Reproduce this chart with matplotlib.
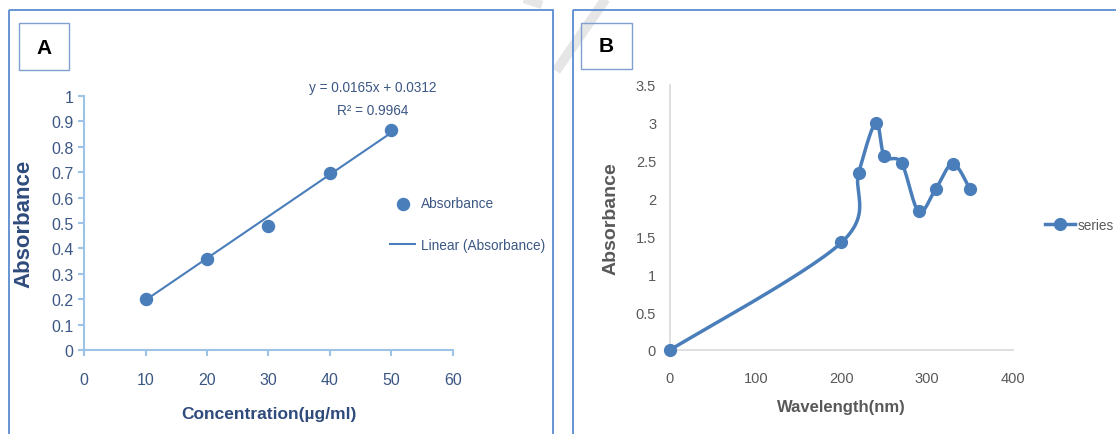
import numpy as np
import matplotlib.pyplot as plt
from matplotlib.patches import Rectangle

# Panel A: calibration data
conc = [10, 20, 30, 40, 50]
absorb_a = [0.20, 0.36, 0.49, 0.695, 0.865]
slope, intercept = 0.0165, 0.0312
r2 = 0.9964

# Panel B: spectrum
wavelength = [0, 200, 220, 240, 250, 270, 290, 310, 330, 350]
absorb_b = [0.0, 1.42, 2.34, 3.0, 2.56, 2.47, 1.83, 2.13, 2.46, 2.12]

BLUE = '#4a7ebb'
NARROW = ['Liberation Sans', 'DejaVu Sans']
W, H = 1116, 435


def px_box(x0, y0, x1, y1):
    # pixel box (top-left origin) -> figure fraction rect
    return [x0 / W, 1 - y1 / H, (x1 - x0) / W, (y1 - y0) / H]


def smooth(xs, ys, sx, sy, n=30):
    # catmull-rom through the points, done in screen-like units (like Excel's smoothed line)
    p = np.column_stack([np.array(xs) / sx, np.array(ys) / sy])
    p = np.vstack([p[0], p, p[-1]])
    out = []
    for i in range(1, len(p) - 2):
        p0, p1, p2, p3 = p[i - 1], p[i], p[i + 1], p[i + 2]
        c1 = p1 + (p2 - p0) / 6
        c2 = p2 - (p3 - p1) / 6
        t = np.linspace(0, 1, n)[:, None]
        seg = (1 - t) ** 3 * p1 + 3 * (1 - t) ** 2 * t * c1 + 3 * (1 - t) * t ** 2 * c2 + t ** 3 * p2
        out.append(seg)
    out = np.vstack(out)
    return out[:, 0] * sx, out[:, 1] * sy


fig = plt.figure(figsize=(W / 100, H / 100), dpi=100)

# panel frames
frame = fig.add_axes([0, 0, 1, 1])
frame.set_xlim(0, W)
frame.set_ylim(H, 0)
frame.axis('off')
# faint watermark stroke behind the frames
frame.plot([607, 556], [-2, 72], color='#e6e6e6', lw=7, solid_capstyle='butt', zorder=0)
frame.plot([518, 542], [-2, 6], color='#e6e6e6', lw=6, solid_capstyle='butt', zorder=0)
frame.add_patch(Rectangle((9, 11), 544, 440, fill=False, ec='#5b8bd0', lw=1.3))
frame.add_patch(Rectangle((573, 11), 560, 440, fill=False, ec='#5b8bd0', lw=1.3))
frame.add_patch(Rectangle((19, 24), 50, 47, fill=False, ec='#7f9fd0', lw=1))
frame.add_patch(Rectangle((581, 24), 51, 46, fill=False, ec='#7f9fd0', lw=1))
frame.text(44, 48, 'A', ha='center', va='center', fontsize=15, fontweight='bold',
           color='black', family=NARROW)
frame.text(606, 47, 'B', ha='center', va='center', fontsize=15, fontweight='bold',
           color='black', family=NARROW)

# ---- Panel A ----
axa = fig.add_axes(px_box(84, 97, 453, 351))
axa.scatter(conc, absorb_a, s=75, color=BLUE, zorder=3, label='Absorbance')
xf = np.array([conc[0], conc[-1]])
axa.plot(xf, slope * xf + intercept, color=BLUE, lw=1.5, label='Linear (Absorbance)')
axa.set_xlim(0, 60)
axa.set_ylim(0, 1)
axa.set_xticks(range(0, 61, 10))
axa.set_yticks(np.arange(0, 1.01, 0.1))
axa.set_yticklabels(['0', '0.1', '0.2', '0.3', '0.4', '0.5', '0.6', '0.7', '0.8', '0.9', '1'])
for s in ['top', 'right']:
    axa.spines[s].set_visible(False)
for s in ['left', 'bottom']:
    axa.spines[s].set_color('#9dc3e6')
    axa.spines[s].set_linewidth(1.5)
axa.tick_params(colors='#9dc3e6', labelcolor='#3b5784', length=4.5, width=1.5)
axa.tick_params(axis='x', pad=11)
axa.tick_params(axis='y', pad=3)
for lab in axa.get_xticklabels() + axa.get_yticklabels():
    lab.set_family(NARROW)
    lab.set_fontsize(11.5)
axa.set_xlabel('Concentration(µg/ml)', family=NARROW, fontsize=12.5, fontweight='bold',
               color='#2f4b7c', labelpad=14)
axa.set_ylabel('Absorbance', family=NARROW, fontsize=16, fontweight='bold',
               color='#2f4b7c', labelpad=12)
axa.text(0.783, 0.99, 'y = 0.0165x + 0.0312\nR² = %.4f' % r2, transform=axa.transAxes,
         ha='center', va='center', family=NARROW, fontsize=9.8, color='#3b5784', linespacing=1.8)
leg = axa.legend(loc='center left', bbox_to_anchor=(0.83, 0.496), frameon=False,
                 borderaxespad=0, borderpad=0,
                 prop={'family': NARROW, 'size': 9.8}, handlelength=1.85, labelspacing=2.0,
                 handletextpad=0.4)
for t in leg.get_texts():
    t.set_color('#3b5784')
axa.patch.set_alpha(0)

# ---- Panel B ----
axb = fig.add_axes(px_box(670, 86, 1013, 351))
sx_, sy_ = smooth(wavelength, absorb_b, 400 / 343, 3.5 / 265)
axb.plot(sx_, sy_, color=BLUE, lw=2.5, zorder=2, clip_on=False)
axb.plot(wavelength, absorb_b, 'o', color=BLUE, ms=8.5, zorder=3, clip_on=False)
axb.plot([], [], '-o', color=BLUE, lw=2.5, ms=8.5, label='series')
axb.set_xlim(0, 400)
axb.set_ylim(0, 3.5)
axb.set_xticks(range(0, 401, 100))
axb.set_yticks(np.arange(0, 3.51, 0.5))
axb.set_yticklabels(['0', '0.5', '1', '1.5', '2', '2.5', '3', '3.5'])
for s in ['top', 'right']:
    axb.spines[s].set_visible(False)
for s in ['left', 'bottom']:
    axb.spines[s].set_color('#d9d9d9')
    axb.spines[s].set_linewidth(1.2)
axb.tick_params(length=0, labelcolor='#595959')
axb.tick_params(axis='x', pad=15)
axb.tick_params(axis='y', pad=10)
for lab in axb.get_xticklabels() + axb.get_yticklabels():
    lab.set_family(NARROW)
    lab.set_fontsize(10.5)
axb.set_xlabel('Wavelength(nm)', family=NARROW, fontsize=12, fontweight='bold',
               color='#595959', labelpad=10)
axb.set_ylabel('Absorbance', family=NARROW, fontsize=14, fontweight='bold',
               color='#595959', labelpad=12)
legb = axb.legend(loc='center left', bbox_to_anchor=(1.093, 0.472), frameon=False,
                  borderaxespad=0, borderpad=0,
                  prop={'family': NARROW, 'size': 9.8}, handlelength=2.2, handletextpad=0.2)
for t in legb.get_texts():
    t.set_color('#595959')
axb.patch.set_alpha(0)

fig.savefig('out.png', dpi=100)
